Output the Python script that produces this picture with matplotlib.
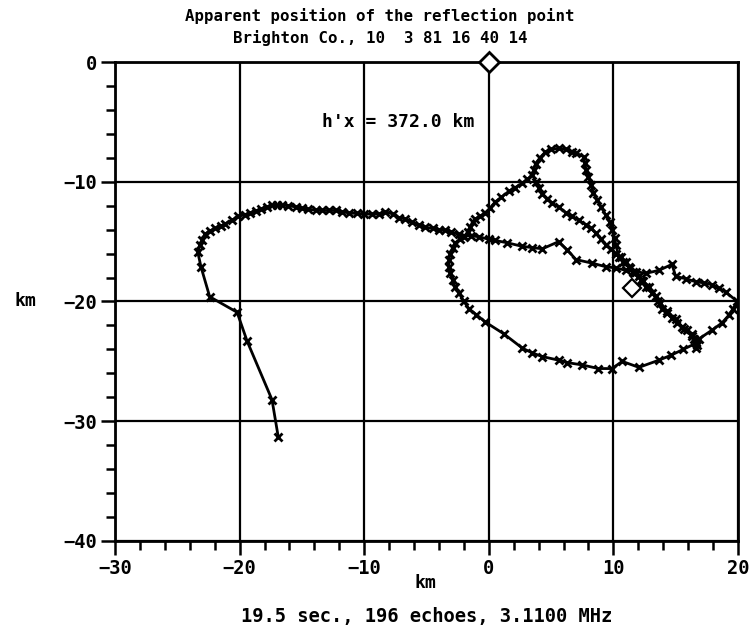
import numpy as np
import matplotlib
matplotlib.use("Agg")
import matplotlib.pyplot as plt
from matplotlib.ticker import MultipleLocator

# apparent reflection point track (km east, km north of the station)
track_x = [
    -16.9, -17.4, -19.4, -20.2, -22.4, -23.1, -23.35, -23.2, -23.0, -22.8,
    -22.4, -21.95, -21.5, -21.15, -20.6, -20.1, -19.6, -19.15, -18.7, -18.3,
    -17.8, -17.4, -17.0, -16.6, -16.1, -15.5, -15.0, -14.5, -13.9, -13.4,
    -12.8, -12.3, -11.8, -11.25, -10.6, -10.0, -9.4, -8.8, -8.3, -7.7,
    -7.2, -6.7, -6.2, -5.6, -5.1, -4.5, -4.0, -3.5, -3.0, -2.4,
    -2.0, -1.4, -0.8, 0.0, 0.5, 1.5, 2.7, 3.5, 4.3, 5.6,
    6.3, 7.0, 8.3, 9.4, 10.2, 11.0, 11.8, 12.6, 13.65, 14.7,
    15.0, 15.8, 16.6, 17.3, 17.9, 18.5, 19.0, 19.95, 19.6, 19.3,
    18.7, 17.9, 16.9, 16.6, 15.6, 14.6, 13.65, 12.05, 10.7, 9.9,
    8.8, 7.5, 6.3, 5.6, 4.3, 3.5, 2.7, 1.2, -0.3, -1.0,
    -1.6, -2.0, -2.4, -2.7, -2.9, -3.1, -3.2, -3.2, -3.1, -2.9,
    -2.7, -2.3, -2.0, -1.7, -1.5, -1.3, -1.1, -0.7, -0.3, 0.1,
    0.5, 1.0, 1.6, 2.1, 2.7, 3.1, 3.5, 3.6, 3.75, 4.1,
    4.55, 5.0, 5.6, 6.2, 6.7, 7.0, 7.6, 7.7, 7.8, 8.0,
    8.2, 8.4, 8.7, 9.0, 9.4, 9.7, 9.9, 10.1, 10.2, 10.45,
    10.8, 11.25, 11.6, 12.05, 12.4, 12.85, 13.4, 13.6, 13.9, 14.3,
    14.7, 15.1, 15.5, 15.9, 16.3, 16.5, 16.7, 16.6, 16.3, 15.7,
    15.0, 14.3, 13.7, 13.1, 12.6, 12.2, 11.65, 11.3, 11.0, 10.6,
    10.2, 9.8, 9.4, 9.0, 8.6, 8.2, 7.8, 7.2, 6.7, 6.2,
    5.6, 5.1, 4.7, 4.3, 4.0, 3.8,
]
track_y = [
    -31.3, -28.2, -23.3, -20.9, -19.6, -17.1, -15.9, -15.3, -14.9, -14.4,
    -14.1, -13.9, -13.7, -13.5, -13.2, -12.9, -12.75, -12.6, -12.45, -12.3,
    -12.1, -11.95, -11.95, -11.95, -12.0, -12.1, -12.2, -12.3, -12.35, -12.4,
    -12.4, -12.4, -12.5, -12.6, -12.65, -12.7, -12.7, -12.7, -12.5, -12.7,
    -13.0, -13.1, -13.4, -13.6, -13.8, -13.9, -14.0, -14.05, -14.2, -14.4,
    -14.5, -14.5, -14.6, -14.8, -14.9, -15.1, -15.4, -15.5, -15.6, -15.0,
    -15.7, -16.5, -16.8, -17.1, -17.2, -17.4, -17.5, -17.65, -17.4, -16.9,
    -17.9, -18.1, -18.35, -18.45, -18.6, -18.9, -19.2, -20.0, -20.6, -21.1,
    -21.8, -22.4, -23.1, -23.5, -24.0, -24.5, -24.9, -25.5, -25.0, -25.6,
    -25.6, -25.3, -25.1, -24.9, -24.6, -24.3, -23.9, -22.7, -21.7, -21.1,
    -20.6, -20.0, -19.3, -18.8, -18.2, -17.6, -17.1, -16.5, -16.0, -15.5,
    -15.1, -14.8, -14.6, -14.2, -13.8, -13.4, -13.1, -12.9, -12.6, -12.2,
    -11.7, -11.3, -10.8, -10.5, -10.1, -9.8, -9.4, -9.0, -8.5, -8.0,
    -7.5, -7.3, -7.2, -7.3, -7.5, -7.6, -7.9, -8.4, -9.0, -9.6,
    -10.3, -10.9, -11.5, -12.1, -12.8, -13.4, -14.0, -14.7, -15.3, -16.3,
    -16.7, -17.1, -17.5, -17.9, -18.3, -18.8, -19.5, -20.0, -20.6, -21.0,
    -21.4, -21.8, -22.1, -22.4, -22.7, -23.1, -23.6, -23.9, -22.9, -22.3,
    -21.5, -20.8, -20.1, -19.3, -18.8, -18.2, -17.65, -17.2, -16.7, -16.3,
    -16.0, -15.6, -15.3, -14.8, -14.3, -13.9, -13.6, -13.2, -12.9, -12.6,
    -12.1, -11.8, -11.4, -11.0, -10.5, -10.0,
]

station = (0.0, 0.0)
mean_point = (11.5, -18.9)
hx_km = 372.0
title_lines = ["Apparent position of the reflection point",
               "Brighton Co., 10  3 81 16 40 14"]
footer = "19.5 sec., 196 echoes, 3.1100 MHz"

font = dict(family="DejaVu Sans Mono", weight="bold")

fig = plt.figure(figsize=(7.55, 6.36), dpi=100)
ax = fig.add_axes([0.1523, 0.1494, 0.8252, 0.7531])

ax.plot(track_x, track_y, color="black", lw=2.0, marker="x",
        ms=5.5, mew=2.0, zorder=3)
ax.plot(*station, marker="D", ms=10, mfc="white", mec="black", mew=2.0,
        clip_on=False, zorder=5)
ax.plot(*mean_point, marker="D", ms=9, mfc="none", mec="black", mew=1.6,
        zorder=4)

ax.set_xlim(-30, 20)
ax.set_ylim(-40, 0)
ax.xaxis.set_major_locator(MultipleLocator(10))
ax.xaxis.set_minor_locator(MultipleLocator(2))
ax.yaxis.set_major_locator(MultipleLocator(10))
ax.yaxis.set_minor_locator(MultipleLocator(2))
ax.grid(True, which="major", color="black", lw=1.6)
for s in ax.spines.values():
    s.set_linewidth(2.0)
ax.tick_params(which="major", direction="out", length=10, width=1.8,
               top=False, right=False, labelsize=13.5, pad=3)
ax.tick_params(which="minor", direction="out", length=6.5, width=1.8,
               top=False, right=False)
for lab in ax.get_xticklabels() + ax.get_yticklabels():
    lab.set_fontfamily(font["family"])
    lab.set_fontweight("bold")

ax.text(-13.4, -5.0, f"h'x = {hx_km:.1f} km", ha="left", va="center",
        fontsize=13, zorder=6, **font)

fig.text(0.503, 0.975, title_lines[0], ha="center", va="center",
         fontsize=11.3, **font)
fig.text(0.503, 0.94, title_lines[1], ha="center", va="center",
         fontsize=11.3, **font)
fig.text(0.563, 0.083, "km", ha="center", va="center", fontsize=13, **font)
fig.text(0.033, 0.527, "km", ha="center", va="center", fontsize=13, **font)
fig.text(0.565, 0.03, footer, ha="center", va="center", fontsize=13.5, **font)

fig.savefig("out.png", dpi=100)
